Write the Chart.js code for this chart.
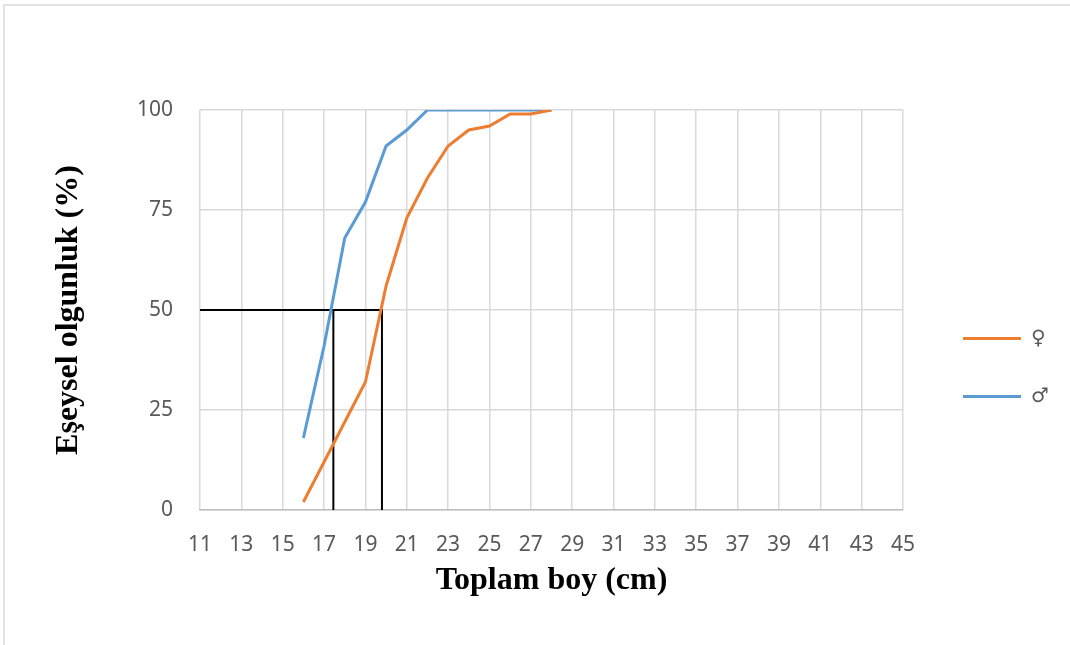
<!DOCTYPE html>
<html>
<head>
<meta charset="utf-8">
<script src="https://cdn.jsdelivr.net/npm/chart.js@4"></script>
<style>
  html, body { margin: 0; padding: 0; background: #fff; }
  #wrap { position: relative; width: 1070px; height: 645px; }
  #frame {
    position: absolute; left: 3px; top: 4px; right: 0; bottom: 0;
    border-top: 2px solid #e2e2e2; border-left: 2px solid #e2e2e2;
    pointer-events: none;
  }
</style>
</head>
<body>
<div id="wrap">
  <canvas id="chart" width="1070" height="645"></canvas>
  <div id="frame"></div>
</div>
<script>
// total length (cm) classes and % mature
const lengthCm = [16, 17, 18, 19, 20, 21, 22, 23, 24, 25, 26, 27, 28];
const female = [2, 12, 22, 32, 56, 73, 83, 91, 95, 96, 99, 99, 100];
const male = [18, 41, 68, 77, 91, 95, 100, 100, 100, 100, 100, 100, 100];

// length at 50% maturity
const l50Male = 17.45;
const l50Female = 19.8;

const xMin = 11, xMax = 45, xStep = 2;
const yTicks = [0, 25, 50, 75, 100];

const toPoints = (xs, ys) => xs.map((x, i) => ({ x: x, y: ys[i] }));

const tickFont = { family: 'Noto Sans', size: 21 };
const titleFont = { family: 'Liberation Serif', size: 32, weight: 'bold' };

// push legend entries a bit to the right of the plot
const legendShift = {
  id: 'legendShift',
  afterInit(chart) {
    const fit = chart.legend.fit;
    chart.legend.fit = function () { fit.call(this); this.width = 150; };
  },
  afterLayout(chart) {
    chart.legend.left += 22;
    chart.legend.right += 22;
  }
};

new Chart(document.getElementById('chart'), {
  type: 'line',
  data: {
    datasets: [
      {
        label: '♀',
        data: toPoints(lengthCm, female),
        borderColor: '#ED7D31',
        backgroundColor: '#ED7D31',
        borderWidth: 3,
        pointRadius: 0
      },
      {
        label: '♂',
        data: toPoints(lengthCm, male),
        borderColor: '#5B9BD5',
        backgroundColor: '#5B9BD5',
        borderWidth: 3,
        pointRadius: 0
      },
      {
        label: 'L50 female',
        data: [{ x: xMin, y: 50 }, { x: l50Female, y: 50 }, { x: l50Female, y: 0 }],
        borderColor: '#000',
        borderWidth: 2,
        pointRadius: 0
      },
      {
        label: 'L50 male',
        data: [{ x: l50Male, y: 50 }, { x: l50Male, y: 0 }],
        borderColor: '#000',
        borderWidth: 2,
        pointRadius: 0
      }
    ]
  },
  options: {
    responsive: false,
    animation: false,
    layout: { padding: { top: 110, left: 45, right: 17, bottom: 20 } },
    plugins: {
      tooltip: { enabled: false },
      legend: {
        position: 'right',
        labels: {
          filter: item => item.datasetIndex < 2,
          usePointStyle: true,
          pointStyle: 'line',
          pointStyleWidth: 58,
          padding: 38,
          color: '#595959',
          font: { family: 'DejaVu Sans', size: 20, weight: 'bold' }
        }
      }
    },
    scales: {
      x: {
        type: 'linear',
        min: xMin,
        max: xMax,
        ticks: { stepSize: xStep, padding: 22, color: '#595959', font: tickFont, maxRotation: 0 },
        grid: { color: '#d9d9d9', lineWidth: 1.5, drawTicks: false },
        border: { color: '#bfbfbf', width: 1.5 },
        title: { display: true, text: 'Toplam boy (cm)', color: '#000', font: titleFont, padding: { top: 4, bottom: 25 } },
        afterFit(scale) { scale.height = 115; }
      },
      y: {
        min: 0,
        max: 100,
        afterBuildTicks(scale) { scale.ticks = yTicks.map(v => ({ value: v })); },
        ticks: { padding: 27, color: '#595959', font: tickFont },
        grid: { color: '#d9d9d9', lineWidth: 1.5, drawTicks: false },
        border: { display: false },
        title: { display: true, text: 'Eşeysel olgunluk (%)', color: '#000', font: titleFont, padding: { top: 5, bottom: 4 } },
        afterFit(scale) { scale.width = 155; }
      }
    }
  },
  plugins: [legendShift]
});
</script>
</body>
</html>
